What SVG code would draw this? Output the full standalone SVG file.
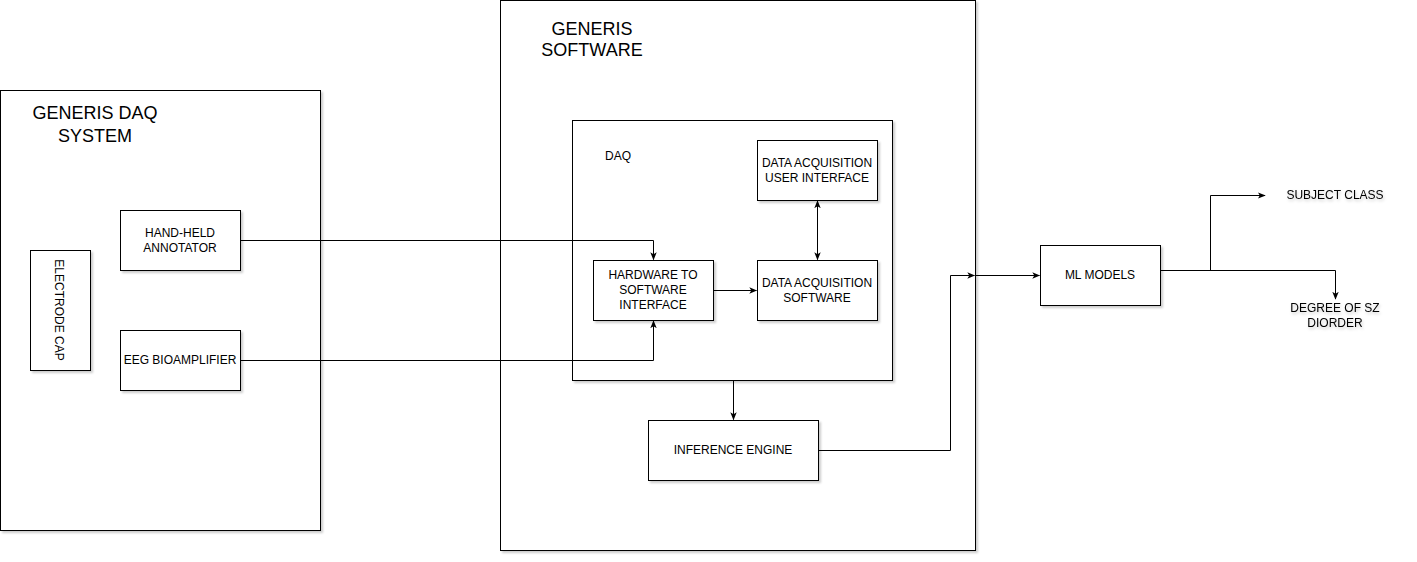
<svg xmlns="http://www.w3.org/2000/svg" width="1417" height="562" viewBox="0 0 1417 562">
<style>
.b{fill:#fff;stroke:#000;stroke-width:1;filter:url(#sh)}
.t{font-family:"Liberation Sans",Arial,sans-serif;font-size:12px;fill:#000;text-anchor:middle}
.T{font-family:"Liberation Sans",Arial,sans-serif;font-size:18px;fill:#000;text-anchor:middle}
.c{fill:none;stroke:#000;stroke-width:1}
.g{filter:url(#tg)}
</style>
<defs>
<filter id="sh" x="-5%" y="-5%" width="115%" height="115%">
<feDropShadow dx="2" dy="2" stdDeviation="1" flood-color="#000" flood-opacity="0.2"/>
</filter>
<filter id="tg" x="-10%" y="-30%" width="120%" height="160%">
<feDropShadow dx="1" dy="2" stdDeviation="1.5" flood-color="#000" flood-opacity="0.2"/>
</filter>
<marker id="a" viewBox="0 0 10 10" refX="9" refY="5" markerWidth="8" markerHeight="8" markerUnits="userSpaceOnUse" orient="auto-start-reverse">
<path d="M0,1 L10,5 L0,9 L2.5,5 Z" fill="#000"/>
</marker>
</defs>
<g id="daq-system">
<rect class="b" x="0.5" y="90.5" width="320" height="440"/>
<text class="T" x="95" y="119">GENERIS DAQ</text>
<text class="T" x="95" y="142">SYSTEM</text>
</g>
<g id="electrode-cap">
<rect class="b" x="30.5" y="250.5" width="60" height="120"/>
<text class="t" transform="translate(55,310) rotate(90)">ELECTRODE CAP</text>
</g>
<g id="annotator">
<rect class="b" x="120.5" y="210.5" width="120" height="60"/>
<text class="t" x="180" y="237">HAND-HELD</text>
<text class="t" x="180" y="252">ANNOTATOR</text>
</g>
<g id="eeg">
<rect class="b" x="120.5" y="330.5" width="120" height="60"/>
<text class="t" x="180" y="364">EEG BIOAMPLIFIER</text>
</g>
<g id="software">
<rect class="b" x="500.5" y="0.5" width="475" height="550"/>
<text class="T" x="592" y="35">GENERIS</text>
<text class="T" x="592" y="56">SOFTWARE</text>
</g>
<g id="daq">
<rect class="b" x="572.5" y="120.5" width="320" height="260"/>
<text class="t" x="618" y="160">DAQ</text>
</g>
<g id="da-ui">
<rect class="b" x="757.5" y="140.5" width="120" height="60"/>
<text class="t" x="817" y="167">DATA ACQUISITION</text>
<text class="t" x="817" y="182">USER INTERFACE</text>
</g>
<g id="hw-sw">
<rect class="b" x="593.5" y="260.5" width="120" height="60"/>
<text class="t" x="653" y="279">HARDWARE TO</text>
<text class="t" x="653" y="294">SOFTWARE</text>
<text class="t" x="653" y="309">INTERFACE</text>
</g>
<g id="da-sw">
<rect class="b" x="757.5" y="260.5" width="120" height="60"/>
<text class="t" x="817" y="287">DATA ACQUISITION</text>
<text class="t" x="817" y="302">SOFTWARE</text>
</g>
<g id="inference">
<rect class="b" x="648.5" y="420.5" width="170" height="60"/>
<text class="t" x="733" y="454">INFERENCE ENGINE</text>
</g>
<g id="ml">
<rect class="b" x="1040.5" y="245.5" width="120" height="60"/>
<text class="t" x="1100" y="279">ML MODELS</text>
</g>
<g id="subject-class">
<text class="t g" x="1335" y="199">SUBJECT CLASS</text>
</g>
<g id="degree">
<text class="t g" x="1335" y="312">DEGREE OF SZ</text>
<text class="t g" x="1335" y="327">DIORDER</text>
</g>
<g id="connectors">
<path class="c" d="M240.5,240.5 H653.5 V259.5" marker-end="url(#a)"/>
<path class="c" d="M240.5,360.5 H653.5 V321" marker-end="url(#a)"/>
<path class="c" d="M713.5,290.5 H756.5" marker-end="url(#a)"/>
<path class="c" d="M817.5,201 V259.5" marker-start="url(#a)" marker-end="url(#a)"/>
<path class="c" d="M733.5,380.5 V419.5" marker-end="url(#a)"/>
<path class="c" d="M818.5,450.5 H950.5 V275.5 H974.5" marker-end="url(#a)"/>
<path class="c" d="M975.5,275.5 H1039.5" marker-end="url(#a)"/>
<path class="c" d="M1160.5,270.5 H1210.5 V195.5 H1265" marker-end="url(#a)"/>
<path class="c" d="M1160.5,270.5 H1335.5 V299" marker-end="url(#a)"/>
</g>
</svg>
